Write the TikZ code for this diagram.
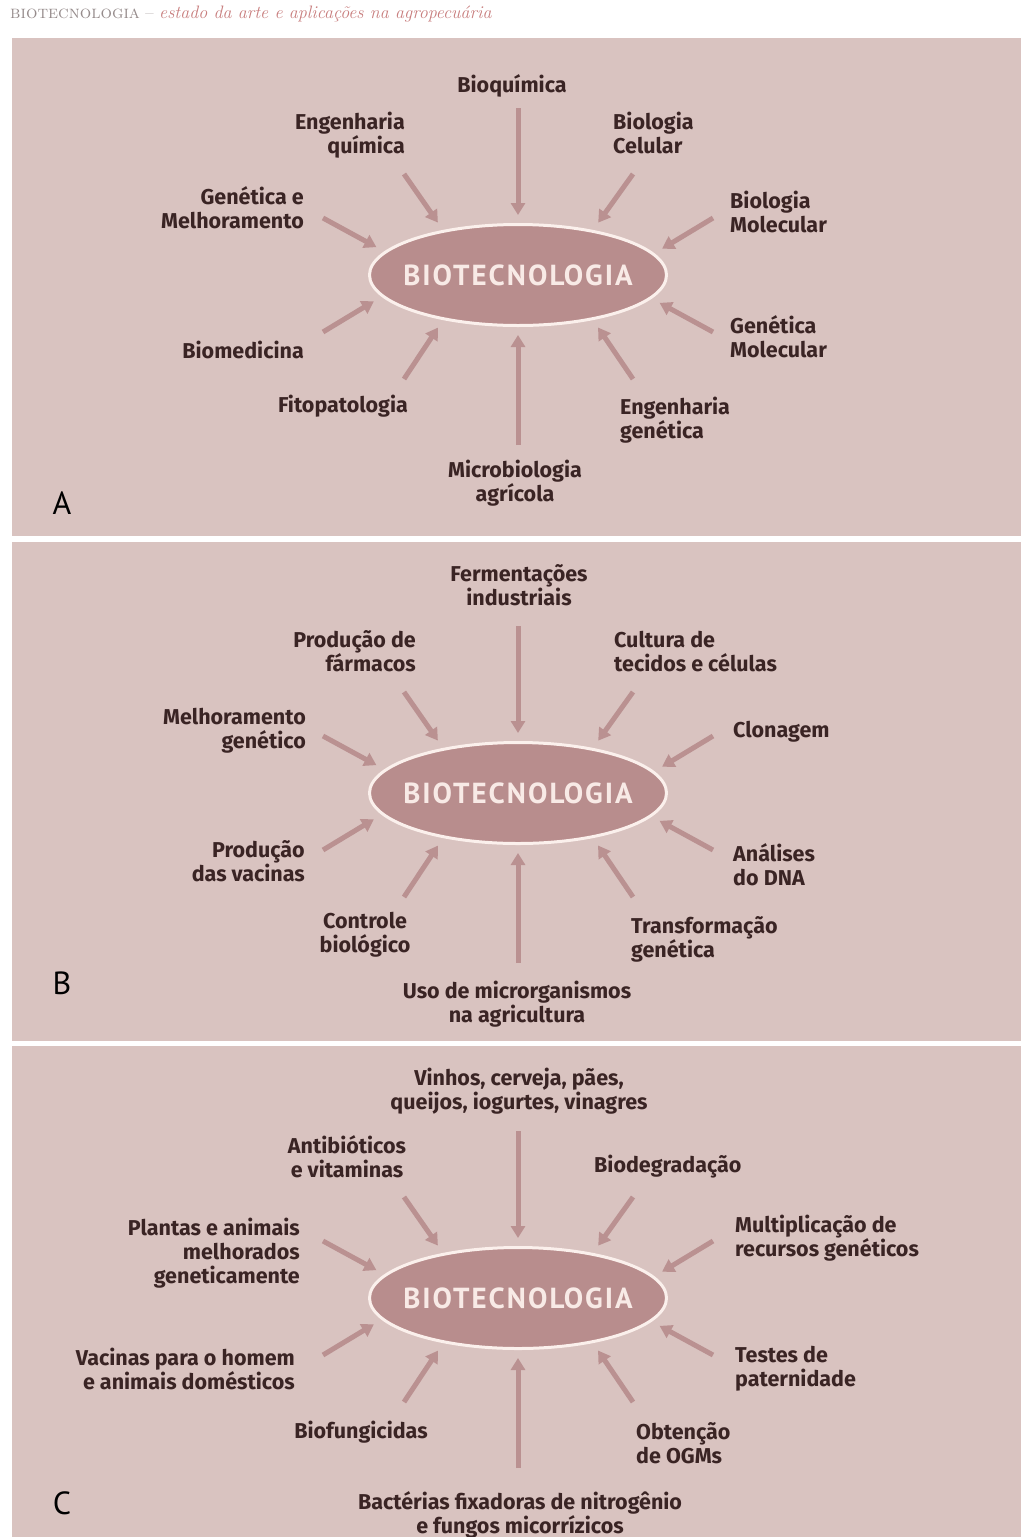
\documentclass[tikz,border=0pt]{standalone}
\usepackage{fontspec}
\setsansfont{Fira Sans}
\newfontfamily\hubfont{PT Sans}
\usetikzlibrary{arrows.meta,shapes.geometric}
\definecolor{panelbg}{RGB}{217,195,192}
\definecolor{ellfill}{RGB}{184,141,141}
\definecolor{arrowc}{RGB}{186,145,145}
\definecolor{txt}{RGB}{58,36,36}
\definecolor{ellborder}{RGB}{251,240,236}
\definecolor{elltext}{RGB}{248,234,230}
\definecolor{hdgrey}{RGB}{150,140,140}
\definecolor{hdred}{RGB}{200,125,125}
\newcommand\hubarrows[2]{%
  \foreach \n/\dx/\dy/\ang/\sh in {1/0/-167/90/8, 2/-114/-101/149/9, 3/115/-101/31/9, 4/-195/-57/170.5/9, 5/195/-57/9.5/9, 6/-195/57/189.5/9, 7/195/57/350.5/9, 8/-114/104/211/9, 9/115/104/329/9, 10/0/170/270/8}{
    \coordinate (#1s\n) at ({518+(\dx)},{#2+(\dy)});
    \draw[arr, shorten >=\sh pt] (#1s\n) -- (#1hub.\ang);
  }}
\newcommand\hubtext{\makebox[0pt]{BIOTECNOLOGIA}}
\begin{document}
\begin{tikzpicture}[x=1pt,y=-1pt,
  panel/.style={fill=panelbg,draw=none},
  hub/.style={ellipse, fill=ellfill, draw=ellborder, line width=3pt, minimum width=297pt, minimum height=101pt, inner sep=0pt, text=elltext, font={\hubfont\bfseries\fontsize{29}{30}\selectfont\addfontfeatures{LetterSpace=7}}},
  lbl/.style={text=txt, font=\sffamily\bfseries\fontsize{21.5}{24}\selectfont, inner sep=0pt},
  arr/.style={draw=arrowc, line width=5pt, -{Triangle[width=14pt,length=12pt]}},
  letter/.style={font=\hubfont\fontsize{32}{32}\selectfont, text=black, inner sep=0pt}
]
\useasboundingbox (0,0) rectangle (1021,1537);
\fill[white] (0,0) rectangle (1021,1537);
% header
\node[anchor=west, inner sep=0pt, font=\fontsize{18}{19}\selectfont] (hdr) at (10,14) {\textcolor{hdgrey}{\textsc{biotecnologia} –} \textcolor{hdred}{\itshape estado da arte e aplicações na agropecuária}};
% panels
\fill[panel] (12,38) rectangle (1021,536);
\fill[panel] (12,542) rectangle (1021,1041);
\fill[panel] (12,1046) rectangle (1021,1537);
% hubs
\node[hub] (Ahub) at (518,275) {\hubtext};
\node[hub] (Bhub) at (518,793) {\hubtext};
\node[hub] (Chub) at (518,1298) {\hubtext};
\hubarrows{A}{275}
\hubarrows{B}{793}
\hubarrows{C}{1298}
% Panel A
\node[lbl] (a1) at (512,86) {Bioquímica};
\node[lbl, anchor=east, align=right] (a2) at (405,135) {Engenharia\\química};
\node[lbl, anchor=west, align=left] (a3) at (613,133) {Biologia\\Celular};
\node[lbl, anchor=east, align=right] (a4) at (304,208) {Genética e\\Melhoramento};
\node[lbl, anchor=west, align=left] (a5) at (730,212) {Biologia\\Molecular};
\node[lbl, anchor=east] (a6) at (304,350) {Biomedicina};
\node[lbl, anchor=west, align=left] (a7) at (730,337) {Genética\\Molecular};
\node[lbl] (a8) at (343,406) {Fitopatologia};
\node[lbl, anchor=west, align=left] (a9) at (620,420) {Engenharia\\genética};
\node[lbl, align=center] (a10) at (515,483) {Microbiologia\\agrícola};
\node[letter] (la) at (62,503) {A};
% Panel B
\node[lbl, align=center] (b1) at (519,585) {Fermentações\\industriais};
\node[lbl, anchor=east, align=right] (b2) at (416,651) {Produção de\\fármacos};
\node[lbl, anchor=west, align=left] (b3) at (614,652) {Cultura de\\tecidos e células};
\node[lbl, anchor=east, align=right] (b4) at (306,731) {Melhoramento\\genético};
\node[lbl, anchor=west] (b5) at (733,732) {Clonagem};
\node[lbl, anchor=east, align=right] (b6) at (305,861) {Produção\\das vacinas};
\node[lbl, anchor=west, align=left] (b7) at (733,865) {Análises\\do DNA};
\node[lbl, align=center] (b8) at (365,935) {Controle\\biológico};
\node[lbl, anchor=west, align=left] (b9) at (631,939) {Transformação\\genética};
\node[lbl, align=center] (b10) at (517,1004) {Uso de microrganismos\\na agricultura};
\node[letter] (lb) at (62,983) {B};
% Panel C
\node[lbl, align=center] (c1) at (519,1091) {Vinhos, cerveja, pães,\\queijos, iogurtes, vinagres};
\node[lbl, align=center] (c2) at (347,1157) {Antibióticos\\e vitaminas};
\node[lbl, anchor=west] (c3) at (594,1167) {Biodegradação};
\node[lbl, anchor=east, align=right] (c4) at (300,1253) {Plantas e animais\\melhorados\\geneticamente};
\node[lbl, anchor=west, align=left] (c5) at (735,1238) {Multiplicação de\\recursos genéticos};
\node[lbl, anchor=east, align=right] (c6) at (295,1369) {Vacinas para o homem\\e animais domésticos};
\node[lbl, anchor=west, align=left] (c7) at (735,1369) {Testes de\\paternidade};
\node[lbl] (c8) at (361,1432) {Biofungicidas};
\node[lbl, anchor=west, align=left] (c9) at (636,1443) {Obtenção\\de OGMs};
\node[lbl, align=center] (c10) at (520,1515) {Bactérias fixadoras de nitrogênio\\e fungos micorrízicos};
\node[letter] (lc) at (62,1503) {C};
\end{tikzpicture}
\end{document}
